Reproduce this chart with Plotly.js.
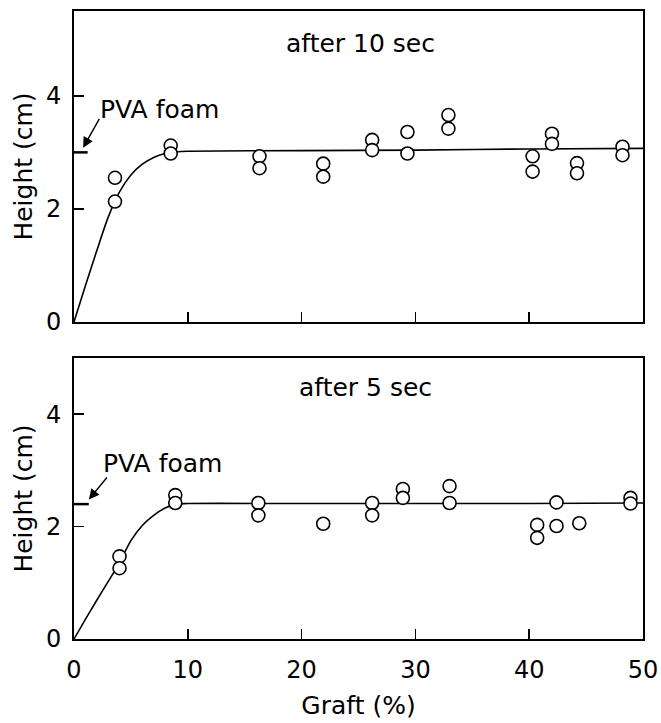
<!DOCTYPE html>
<html>
<head>
<meta charset="utf-8">
<script src="https://cdn.plot.ly/plotly-3.0.1.min.js"></script>
<style>html,body{margin:0;padding:0;background:#fff;}</style>
</head>
<body>
<div id="chart" style="width:661px;height:723px;"></div>
<script>
// after 10 sec (top panel)
const graft10 = [3.6,3.6, 8.5,8.5, 16.3,16.3, 21.9,21.9, 26.2,26.2, 29.3,29.3, 32.9,32.9, 40.3,40.3, 42.0,42.0, 44.2,44.2, 48.2,48.2];
const height10 = [2.55,2.13, 3.12,2.98, 2.93,2.72, 2.8,2.57, 3.22,3.04, 3.36,2.98, 3.66,3.42, 2.93,2.66, 3.33,3.15, 2.81,2.63, 3.1,2.95];
const curveX10 = [0, 1, 2, 3, 4, 5, 6, 7, 8, 9, 10, 20, 30, 40, 50];
const curveY10 = [0, 0.64, 1.26, 1.85, 2.3, 2.6, 2.79, 2.91, 2.98, 3.01, 3.02, 3.03, 3.04, 3.06, 3.07];

// after 5 sec (bottom panel)
const graft5 = [4.0,4.0, 8.9,8.9, 16.2,16.2, 21.9, 26.2,26.2, 28.9,28.9, 33.0,33.0, 40.7,40.7, 42.4,42.4, 44.4, 48.9,48.9];
const height5 = [1.47,1.26, 2.56,2.42, 2.42,2.2, 2.05, 2.42,2.2, 2.67,2.51, 2.72,2.42, 2.03,1.8, 2.43,2.01, 2.06, 2.51,2.41];
const curveX5 = [0, 1, 2, 3, 4, 5, 6, 7, 8, 9, 10, 20, 30, 40, 50];
const curveY5 = [0, 0.35, 0.69, 1.02, 1.36, 1.75, 2.02, 2.2, 2.33, 2.4, 2.41, 2.41, 2.41, 2.41, 2.42];

const pvaLevel = [3.0, 2.4];
const xTicks = [0, 10, 20, 30, 40, 50];
const yTicks = [0, 2, 4];

const font = {family: "DejaVu Sans, sans-serif", size: 25, color: "#000"};
const tickFont = {family: "DejaVu Sans, sans-serif", size: 24, color: "#000"};
const lineStyle = {color: "#000", width: 1.6};
const markerStyle = {symbol: "circle", size: 13, color: "#fff", line: {color: "#000", width: 1.6}};

const traces = [
  {x: curveX10, y: curveY10, xaxis: "x", yaxis: "y", mode: "lines", line: Object.assign({shape: "spline", smoothing: 0.8}, lineStyle), hoverinfo: "skip"},
  {x: graft10, y: height10, xaxis: "x", yaxis: "y", mode: "markers", marker: markerStyle},
  {x: curveX5, y: curveY5, xaxis: "x2", yaxis: "y2", mode: "lines", line: Object.assign({shape: "spline", smoothing: 0.8}, lineStyle), hoverinfo: "skip"},
  {x: graft5, y: height5, xaxis: "x2", yaxis: "y2", mode: "markers", marker: markerStyle}
];

const axisBase = {
  showline: true, linecolor: "#000", linewidth: 2, mirror: true,
  ticks: "inside", ticklen: 10, tickwidth: 1.5, tickcolor: "#000",
  showgrid: false, zeroline: false, tickfont: tickFont, ticklabelstandoff: 6
};

const layout = {
  width: 661, height: 723,
  margin: {l: 74, r: 18, t: 11, b: 84},
  paper_bgcolor: "#fff", plot_bgcolor: "#fff",
  showlegend: false,
  font: font,
  xaxis: Object.assign({}, axisBase, {domain: [0, 1], anchor: "y", range: [0, 50], tickvals: [10, 20, 30, 40], showticklabels: false}),
  yaxis: Object.assign({}, axisBase, {domain: [0.5048, 1], anchor: "x", range: [0, 5.5], tickvals: yTicks,
    title: {text: "Height (cm)", font: font, standoff: 6}}),
  xaxis2: Object.assign({}, axisBase, {domain: [0, 1], anchor: "y2", range: [0, 50], tickvals: xTicks, ticklabelstandoff: 8,
    title: {text: "Graft (%)", font: font, standoff: 14}}),
  yaxis2: Object.assign({}, axisBase, {domain: [0, 0.4475], anchor: "x2", range: [0, 5], tickvals: yTicks,
    title: {text: "Height (cm)", font: font, standoff: 6}}),
  shapes: [
    {type: "line", xref: "x", yref: "y", x0: 0, x1: 1.2, y0: pvaLevel[0], y1: pvaLevel[0], line: {color: "#000", width: 2.5}},
    {type: "line", xref: "x2", yref: "y2", x0: 0, x1: 1.3, y0: pvaLevel[1], y1: pvaLevel[1], line: {color: "#000", width: 2.5}}
  ],
  annotations: [
    {text: "after 10 sec", xref: "x", yref: "y", x: 25.2, y: 4.93, showarrow: false, font: font},
    {text: "after 5 sec", xref: "x2", yref: "y2", x: 25.6, y: 4.48, showarrow: false, font: font},
    {text: "PVA foam", xref: "x", yref: "y", x: 2.1, y: 3.75, xanchor: "left", showarrow: false, font: font},
    {text: "PVA foam", xref: "x2", yref: "y2", x: 2.4, y: 3.13, xanchor: "left", showarrow: false, font: font},
    {text: "", xref: "x", yref: "y", x: 0.8, y: pvaLevel[0] + 0.08, axref: "x", ayref: "y", ax: 2.3, ay: 3.62,
      showarrow: true, arrowhead: 2, arrowsize: 1.5, arrowwidth: 1.4, arrowcolor: "#000"},
    {text: "", xref: "x2", yref: "y2", x: 1.3, y: pvaLevel[1] + 0.08, axref: "x2", ayref: "y2", ax: 3.0, ay: 2.9,
      showarrow: true, arrowhead: 2, arrowsize: 1.5, arrowwidth: 1.4, arrowcolor: "#000"}
  ]
};

Plotly.newPlot("chart", traces, layout, {displayModeBar: false, staticPlot: true});
</script>
</body>
</html>
